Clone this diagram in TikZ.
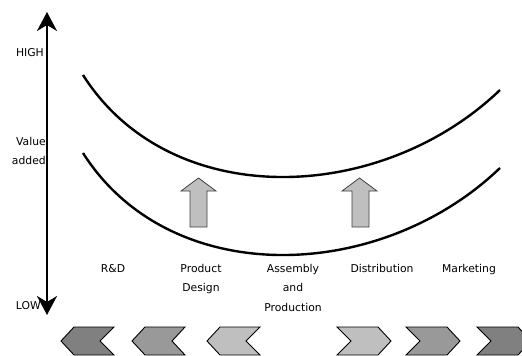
\documentclass[tikz,border=0pt]{standalone}
\usepackage{fontspec}
\setmainfont{DejaVu Sans}
\usetikzlibrary{arrows.meta}
\begin{document}
\begin{tikzpicture}[x=1pt,y=-1pt,
  lbl/.style={font=\fontsize{10.8}{19.5}\selectfont, text=black, inner sep=0pt, align=center},
  curve/.style={line width=2.4pt, black},
  blockarrow/.style={fill=black!25, draw=black!75, line width=0.8pt},
  chev/.style={draw=black, line width=0.9pt},
  axis/.style={line width=2.4pt, {Stealth[length=19pt,width=20pt,inset=6pt]}-{Stealth[length=19pt,width=20pt,inset=6pt]}}]
\useasboundingbox (0,0) rectangle (522,356);
% axis
\coordinate (top) at (47,12);
\coordinate (bot) at (47,315);
\draw[axis] (bot) -- (top);
\node[lbl, anchor=east] (high) at (44,53) {HIGH};
\node[lbl, anchor=east] (value) at (46,141) {Value};
\node[lbl, anchor=east] (added) at (46,160) {added};
\node[lbl, anchor=east] (low) at (41,306) {LOW};
% curves
\coordinate (u1) at (83,75);
\coordinate (u2) at (500,90);
\coordinate (l1) at (83,153);
\coordinate (l2) at (500,168);
\draw[curve] (u1) .. controls (170,212) and (380,205) .. (u2);
\draw[curve] (l1) .. controls (170,290) and (380,283) .. (l2);
% block arrows
\draw[blockarrow] (190,227) -- (190,191) -- (181,191) -- (198.5,178) -- (216,191) -- (207,191) -- (207,227) -- cycle;
\draw[blockarrow] (352,227) -- (352,191) -- (342,191) -- (359.5,178) -- (377,191) -- (369,191) -- (369,227) -- cycle;
% labels
\node[lbl, anchor=north] (rd) at (113,264) {R\&D};
\node[lbl, anchor=north] (pd) at (201,264) {Product\\Design};
\node[lbl, anchor=north] (ap) at (293,264) {Assembly\\and\\Production};
\node[lbl, anchor=north] (di) at (382,264) {Distribution};
\node[lbl, anchor=north] (mk) at (469,264) {Marketing};
% left chevrons
\draw[chev, fill=black!50] (61,341) -- (74,327) -- (114,327) -- (100,341) -- (114,355) -- (74,355) -- cycle;
\draw[chev, fill=black!40] (132,341) -- (145,327) -- (185,327) -- (172,341) -- (185,355) -- (145,355) -- cycle;
\draw[chev, fill=black!25] (207,341) -- (220,327) -- (260,327) -- (246,341) -- (260,355) -- (220,355) -- cycle;
% right chevrons
\draw[chev, fill=black!25] (337,327) -- (378,327) -- (391,341) -- (378,355) -- (337,355) -- (351,341) -- cycle;
\draw[chev, fill=black!40] (406,327) -- (447,327) -- (460,341) -- (447,355) -- (406,355) -- (420,341) -- cycle;
\draw[chev, fill=black!50] (477,327) -- (518,327) -- (531,341) -- (518,355) -- (477,355) -- (491,341) -- cycle;
\end{tikzpicture}
\end{document}
